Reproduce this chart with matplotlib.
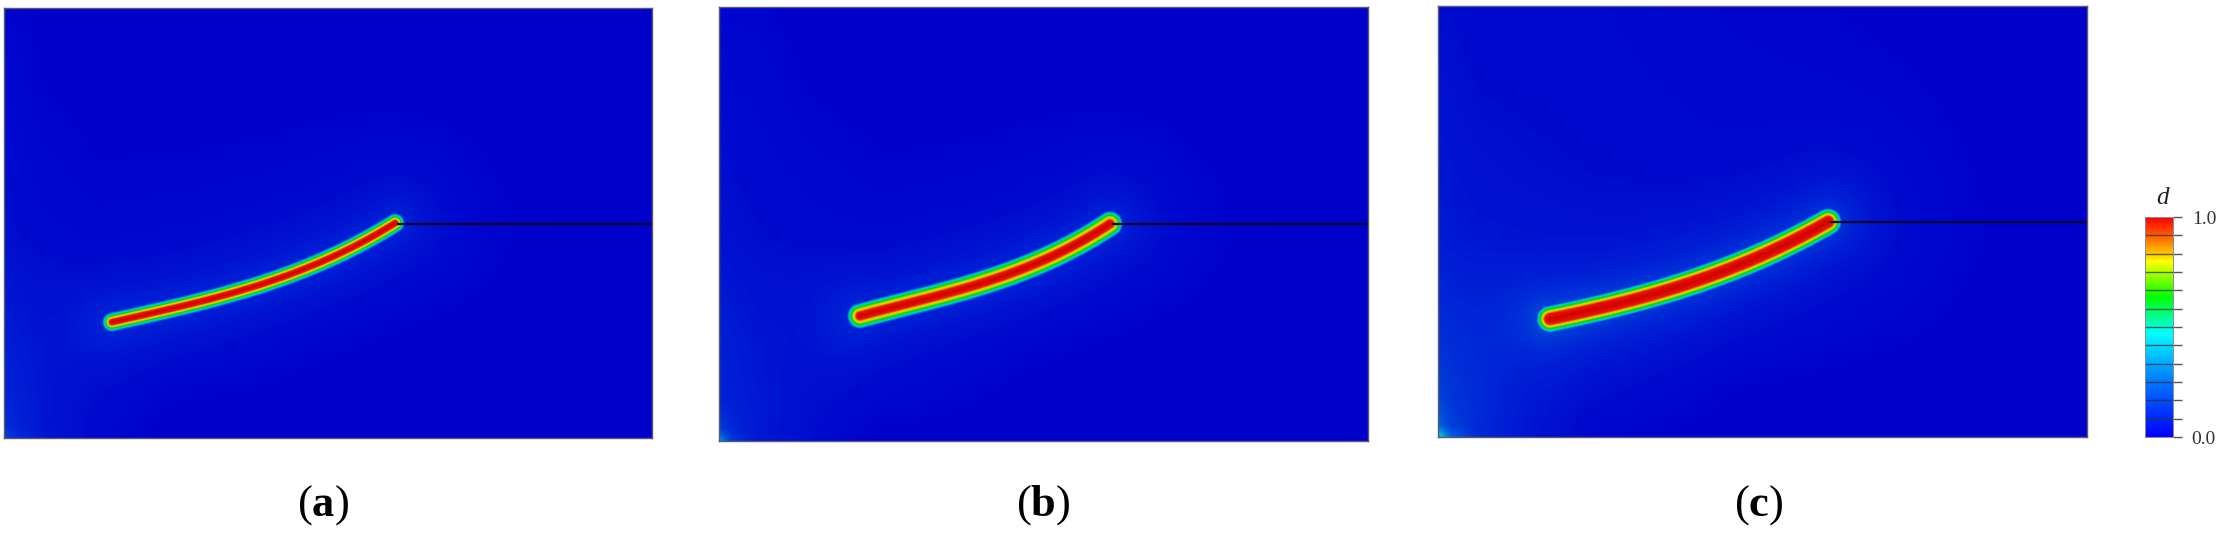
import numpy as np
import matplotlib
matplotlib.use("Agg")
import matplotlib.pyplot as plt
from matplotlib.colors import LinearSegmentedColormap

plt.rcParams['mathtext.fontset'] = 'custom'
plt.rcParams['mathtext.bf'] = 'Liberation Serif:bold'
plt.rcParams['mathtext.rm'] = 'Liberation Serif'

FIG_W, FIG_H = 2223, 533

# panel frames in picture pixels: left, right, top, bottom
FRAME_A = (4, 652, 8, 438)
FRAME_B = (719, 1368, 7, 441)
FRAME_C = (1438, 2087, 6, 437)
FRAME_BAR = (2145, 2173, 217, 437)

# crack centre lines, measured from each panel's lower left corner
CRACK_A_X = [108, 176, 243, 293, 343, 391]
CRACK_A_Y = [116, 131, 150, 166, 188, 215]
CRACK_B_X = [141, 201, 251, 301, 351, 391]
CRACK_B_Y = [125, 141, 154, 171, 194, 217]
CRACK_C_X = [112, 162, 229, 295, 345, 390]
CRACK_C_Y = [118, 129, 147, 169, 192, 215]

# notch height above the lower edge
NOTCH_Y_A = 214
NOTCH_Y_B = 217
NOTCH_Y_C = 215

# damage across the crack: value at a distance from the centre line
PROFILE_D = [1.0, 0.95, 0.8, 0.55, 0.32, 0.1, 0.0]
PROFILE_DIST_A = [0, 2.5, 4, 6, 8, 10, 14]
PROFILE_DIST_B = [0, 3.5, 5.5, 8.5, 11, 13, 17]
PROFILE_DIST_C = [0, 5, 7, 9.5, 12, 14, 18]
HALO = [0.10, 0.11, 0.15]

# coarse damage values of the background
BG_X = [0, 12, 40, 90, 160, 300, 648]
BG_Y = [0, 12, 40, 100, 200, 430]
BG_A = [[0.15, 0.11, 0.06, 0.02, 0.0, 0.0, 0.0],
        [0.11, 0.09, 0.05, 0.02, 0.0, 0.0, 0.0],
        [0.09, 0.08, 0.05, 0.02, 0.0, 0.0, 0.0],
        [0.07, 0.06, 0.04, 0.02, 0.01, 0.0, 0.0],
        [0.04, 0.03, 0.02, 0.01, 0.01, 0.01, 0.0],
        [0.01, 0.01, 0.0, 0.0, 0.0, 0.0, 0.0]]
BG_B = [[0.28, 0.13, 0.06, 0.03, 0.0, 0.0, 0.0],
        [0.14, 0.10, 0.06, 0.03, 0.0, 0.0, 0.0],
        [0.09, 0.08, 0.06, 0.03, 0.01, 0.0, 0.0],
        [0.08, 0.07, 0.05, 0.03, 0.01, 0.0, 0.0],
        [0.05, 0.04, 0.03, 0.02, 0.01, 0.01, 0.0],
        [0.02, 0.01, 0.01, 0.0, 0.0, 0.0, 0.0]]
BG_C = [[0.38, 0.20, 0.10, 0.05, 0.01, 0.0, 0.0],
        [0.20, 0.14, 0.10, 0.05, 0.01, 0.0, 0.0],
        [0.14, 0.12, 0.10, 0.05, 0.02, 0.0, 0.0],
        [0.11, 0.10, 0.08, 0.05, 0.03, 0.01, 0.0],
        [0.07, 0.06, 0.05, 0.04, 0.03, 0.02, 0.0],
        [0.03, 0.03, 0.02, 0.02, 0.02, 0.01, 0.0]]

PANEL_LABELS = ['a', 'b', 'c']
LABEL_X = [323, 1043, 1759]
LABEL_Y = 505

BAR_MIN, BAR_MAX = 0.0, 1.0
BAR_BANDS = 12

# field colours are shaded darker than the legend
FIELD_STOPS = [0.0, 0.1, 0.2, 0.32, 0.42, 0.55, 0.7, 0.8, 0.92, 1.0]
FIELD_COLORS = ['#0000cd', '#0028d7', '#0064e1', '#00bedc', '#00d782',
                '#00d700', '#bee100', '#f0be00', '#eb2800', '#d70000']
BAR_STOPS = [0.0, 0.25, 0.47, 0.55, 0.64, 0.8, 0.88, 1.0]
BAR_COLORS = ['#0000ff', '#0078ff', '#00ffff', '#00ff8c', '#00ff00',
              '#ffff00', '#ff8c00', '#ff0000']

field_cmap = LinearSegmentedColormap.from_list('field', list(zip(FIELD_STOPS, FIELD_COLORS)))
bar_cmap = LinearSegmentedColormap.from_list('bar', list(zip(BAR_STOPS, BAR_COLORS)))


def axes_from_frame(fig, frame):
    left, right, top, bottom = frame
    return fig.add_axes([left / FIG_W, 1 - bottom / FIG_H,
                         (right - left) / FIG_W, (bottom - top) / FIG_H])


def crack_distance(px, py, cx, cy):
    # distance to a smooth curve fitted through the read points
    coef = np.polyfit(cx, cy, 3)
    line_x = np.linspace(cx[0], cx[-1], 300)
    line_y = np.polyval(coef, line_x)
    best = np.full(px.shape, np.inf)
    for lx, ly in zip(line_x, line_y):
        best = np.minimum(best, (px - lx) ** 2 + (py - ly) ** 2)
    return np.sqrt(best)


def background(px, py, grid):
    grid = np.array(grid, dtype=float)
    rows = np.array([np.interp(px[0], BG_X, row) for row in grid])
    out = np.empty(px.shape)
    for j in range(px.shape[1]):
        out[:, j] = np.interp(py[:, 0], BG_Y, rows[:, j])
    return out


def draw_panel(fig, frame, cx, cy, notch_y, grid, profile_dist, halo):
    ax = axes_from_frame(fig, frame)
    w = frame[1] - frame[0]
    h = frame[3] - frame[2]
    px, py = np.meshgrid(np.arange(w) + 0.5, np.arange(h) + 0.5)
    dist = crack_distance(px, py, cx, cy)
    band = np.interp(dist, profile_dist, PROFILE_D)
    glow = halo * np.exp(-dist / 35)
    field = np.maximum(band, background(px, py, grid) + glow)
    ax.imshow(field, origin='lower', extent=(0, w, 0, h), cmap=field_cmap,
              vmin=0, vmax=1, interpolation='bilinear', aspect='auto')
    ax.plot([cx[-1] + 2, w], [notch_y, notch_y], color='#04042e', lw=1.6,
            solid_capstyle='butt')
    ax.set_xlim(0, w)
    ax.set_ylim(0, h)
    ax.set_xticks([])
    ax.set_yticks([])
    for s in ax.spines.values():
        s.set_color('#5a5a6a')
        s.set_linewidth(1.0)


def draw_legend(fig):
    ax = axes_from_frame(fig, FRAME_BAR)
    values = np.linspace(BAR_MIN, BAR_MAX, 220).reshape(-1, 1)
    ax.imshow(values, origin='lower', extent=(0, 1, BAR_MIN, BAR_MAX), cmap=bar_cmap,
              vmin=BAR_MIN, vmax=BAR_MAX, aspect='auto')
    ticks = np.linspace(BAR_MIN, BAR_MAX, BAR_BANDS + 1)
    ax.hlines(ticks[1:-1], 0, 1, color='#303030', lw=1.0, alpha=0.75)
    ax.set_xticks([])
    ax.yaxis.tick_right()
    ax.set_yticks(ticks)
    ax.set_yticklabels(['0.0'] + [''] * (BAR_BANDS - 1) + ['1.0'],
                       family='Liberation Serif', fontsize=14, color='#333333')
    ax.tick_params(axis='y', length=6.5, width=1.0, color='#555555', pad=7)
    for s in ax.spines.values():
        s.set_color('#8a8a9a')
        s.set_linewidth(0.7)
    fig.text(2162 / FIG_W, 1 - 198 / FIG_H, 'd', family='Liberation Serif', style='italic',
             fontsize=18, ha='center', va='center', color='#222222')


def main():
    fig = plt.figure(figsize=(FIG_W / 100, FIG_H / 100), dpi=100, facecolor='white')

    draw_panel(fig, FRAME_A, CRACK_A_X, CRACK_A_Y, NOTCH_Y_A, BG_A, PROFILE_DIST_A, HALO[0])
    draw_panel(fig, FRAME_B, CRACK_B_X, CRACK_B_Y, NOTCH_Y_B, BG_B, PROFILE_DIST_B, HALO[1])
    draw_panel(fig, FRAME_C, CRACK_C_X, CRACK_C_Y, NOTCH_Y_C, BG_C, PROFILE_DIST_C, HALO[2])
    draw_legend(fig)

    for name, x in zip(PANEL_LABELS, LABEL_X):
        fig.text(x / FIG_W, 1 - LABEL_Y / FIG_H, r'$\mathrm{(}\mathbf{%s}\mathrm{)}$' % name,
                 fontsize=32, ha='center', va='center', color='black')

    fig.savefig('out.png', dpi=100)


if __name__ == "__main__":
    main()
